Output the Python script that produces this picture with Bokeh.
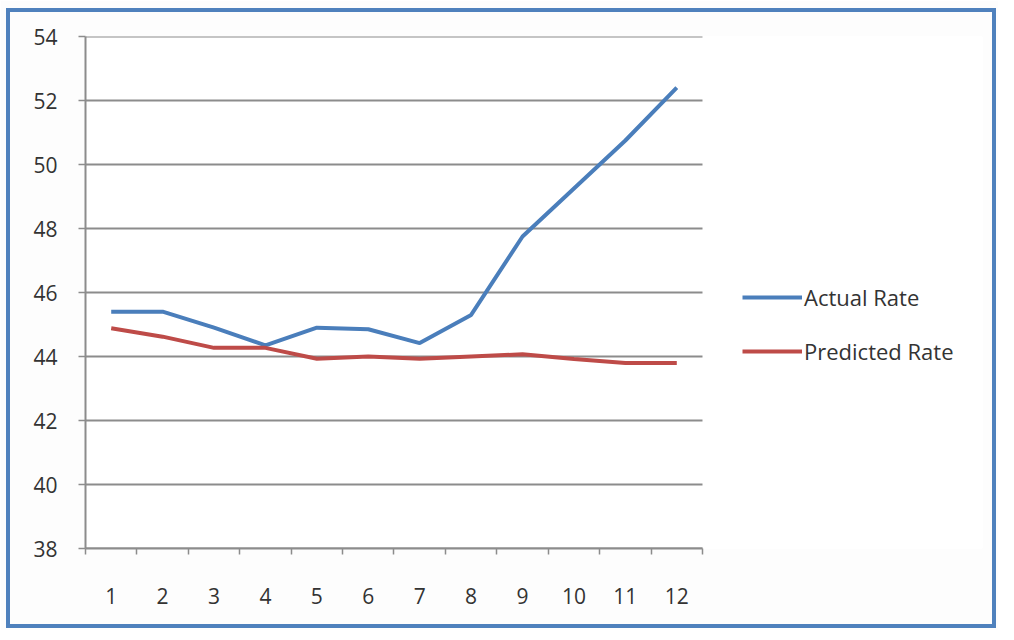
from bokeh.plotting import figure
from bokeh.models import FixedTicker, Legend, LegendItem, InlineStyleSheet
from bokeh.embed import file_html
from bokeh.resources import INLINE

months = [1, 2, 3, 4, 5, 6, 7, 8, 9, 10, 11, 12]
actual_rate = [45.4, 45.4, 44.9, 44.35, 44.9, 44.85, 44.42, 45.3, 47.75, 49.25, 50.75, 52.4]
predicted_rate = [44.88, 44.62, 44.27, 44.27, 43.93, 44.0, 43.93, 44.0, 44.07, 43.92, 43.8, 43.8]
y_ticks = [38, 40, 42, 44, 46, 48, 50, 52, 54]

FONT = "Open Sans"
GRID = "#8c8c8c"
TXT = "#333333"

x_lo, x_hi = months[0] - 0.5, months[-1] + 0.5

p = figure(width=998, height=630, output_backend="svg", toolbar_location=None,
           x_range=(x_lo, 17.946), y_range=(38, 54),
           min_border_left=85, min_border_top=36, min_border_right=16, min_border_bottom=82)
frame_css = (":host { position: relative; }\n"
             ":host::after { content: ''; position: absolute; left: 6px; top: 8px; "
             "width: 990px; height: 620px; box-sizing: border-box; "
             "border: 4px solid #4F81BD; pointer-events: none; z-index: 10; }")
p.stylesheets = [InlineStyleSheet(css=frame_css)]
p.background_fill_color = "white"
p.border_fill_color = "#fdfdfd"
p.outline_line_color = None

p.xaxis.bounds = (x_lo, x_hi)
p.xaxis.ticker = FixedTicker(ticks=months, minor_ticks=[m - 0.5 for m in months] + [x_hi])
p.xaxis.major_tick_out = 0
p.xaxis.major_tick_in = 0
p.xaxis.minor_tick_out = 6
p.xaxis.minor_tick_in = 0
p.xaxis.minor_tick_line_color = GRID
p.xaxis.minor_tick_line_width = 1.5
p.xaxis.axis_line_color = GRID
p.xaxis.axis_line_width = 2
p.xaxis.major_label_standoff = 33
p.xaxis.major_label_text_font = FONT
p.xaxis.major_label_text_font_size = "21px"
p.xaxis.major_label_text_color = TXT

p.yaxis.ticker = FixedTicker(ticks=y_ticks)
p.yaxis.major_tick_out = 7
p.yaxis.major_tick_in = 0
p.yaxis.minor_tick_out = 0
p.yaxis.minor_tick_in = 0
p.yaxis.major_tick_line_color = GRID
p.yaxis.major_tick_line_width = 1.5
p.yaxis.axis_line_color = GRID
p.yaxis.axis_line_width = 2
p.yaxis.major_label_standoff = 21
p.yaxis.major_label_text_font = FONT
p.yaxis.major_label_text_font_size = "21px"
p.yaxis.major_label_text_color = TXT

p.xgrid.grid_line_color = None
p.ygrid.grid_line_color = None
p.segment(x0=x_lo, x1=x_hi, y0=y_ticks, y1=y_ticks, line_color=GRID, line_width=2)

r1 = p.line(months, actual_rate, line_color="#4A7EBB", line_width=4)
r2 = p.line(months, predicted_rate, line_color="#BE4B48", line_width=4)

legend = Legend(items=[LegendItem(label="Actual Rate", renderers=[r1]),
                       LegendItem(label="Predicted Rate", renderers=[r2])],
                location=(657, 182), orientation="vertical",
                glyph_width=60, glyph_height=22, label_height=22, spacing=24,
                label_standoff=2, padding=0, margin=0,
                border_line_color=None, background_fill_alpha=0,
                label_text_font=FONT, label_text_font_size="22px",
                label_text_color=TXT)
p.add_layout(legend, "center")

open("out.html", "w").write(file_html(p, INLINE))
